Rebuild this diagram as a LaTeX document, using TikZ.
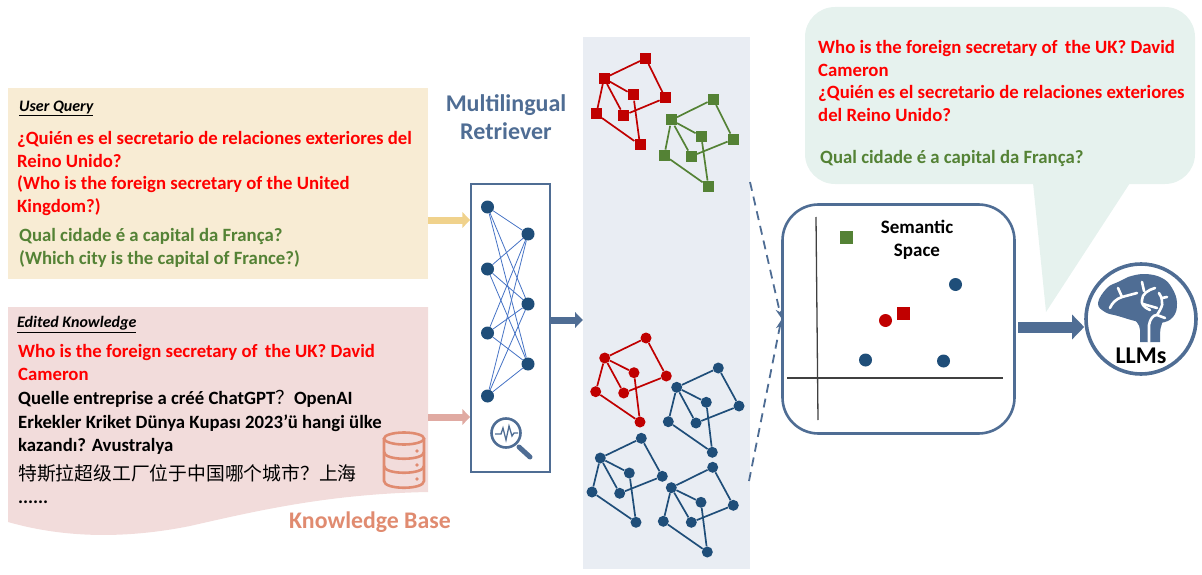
\documentclass[tikz,border=0pt]{standalone}
\usepackage{fontspec}
\setmainfont{Carlito}
\newfontfamily\cjk{Noto Sans CJK SC}
\usetikzlibrary{arrows.meta}
\definecolor{slateblue}{HTML}{4F6D94}
\definecolor{navyblue}{HTML}{1F4E79}
\definecolor{linkblue}{HTML}{4472C4}
\definecolor{darkred}{HTML}{C00000}
\definecolor{leafgreen}{HTML}{548235}
\definecolor{queryfill}{HTML}{F8ECD4}
\definecolor{queryarrow}{HTML}{F0D28C}
\definecolor{editfill}{HTML}{F2DCDB}
\definecolor{editarrow}{HTML}{E0AAA2}
\definecolor{salmon}{HTML}{E08B70}
\definecolor{panelfill}{HTML}{E9EDF3}
\definecolor{bubblefill}{HTML}{E6F2EE}
\tikzset{
  txt/.style={anchor=north west, inner sep=0pt, align=left, font=\fontsize{18.75}{22.7}\selectfont\bfseries},
  head/.style={anchor=west, inner sep=0pt, font=\fontsize{16}{18}\selectfont\bfseries\itshape},
  sq/.style={rectangle, fill=#1, inner sep=0pt, minimum size=11pt},
  dot/.style={circle, fill=#1, inner sep=0pt, minimum size=11pt},
  netnode/.style={circle, fill=navyblue, inner sep=0pt, minimum size=13pt},
  bigarrow/.style={line width=#1, -{Triangle[length=1.1*#1,width=2.2*#1]}},
  dasharrow/.style={draw=slateblue, line width=1.8pt, dash pattern=on 9pt off 6pt, -{Stealth[length=9pt,width=7pt]}},
  branch/.style={white, line width=2.6pt, line cap=round},
}
\newcommand{\kgraph}[9]{
  \node [#2] (#1a) at #3 {};
  \node [#2] (#1b) at #4 {};
  \node [#2] (#1c) at #5 {};
  \node [#2] (#1d) at #6 {};
  \node [#2] (#1e) at #7 {};
  \node [#2] (#1f) at #8 {};
  \node [#2] (#1g) at #9 {};
  \draw [line width=1.7pt, draw=\kcolor] (#1a) -- (#1b) (#1a) -- (#1d) (#1b) -- (#1c) (#1b) -- (#1f)
    (#1b) -- (#1e) (#1d) -- (#1f) (#1e) -- (#1g) (#1c) -- (#1g);
}
\begin{document}
\begin{tikzpicture}[x=1pt, y=-1pt]
  \useasboundingbox (0, 0) rectangle (1202, 575);

  % left side
  \node [fill=queryfill, minimum width=420pt, minimum height=191pt, inner sep=0pt] (query) at (218, 183.5) {};
  \node [head] (queryhead) at (19, 108.5) {\underline{User Query}};
  \node [txt, text=red] (queryred) at (17, 131) {¿Quién es el secretario de relaciones exteriores del\\Reino Unido?\\(Who is the foreign secretary of the United\\Kingdom?)};
  \node [txt, text=leafgreen] (querygreen) at (19, 228) {Qual cidade é a capital da França?\\(Which city is the capital of France?)};

  \fill [editfill] (8, 307) -- (428, 307) -- (428, 492) .. controls (330, 494) and (260, 510) .. (190, 526)
    .. controls (110, 542) and (50, 534) .. (8, 522) -- cycle;
  \coordinate (editout) at (428, 417);
  \node [head] (edithead) at (17, 324.5) {\underline{Edited Knowledge}};
  \node [txt, text=red] (editred) at (18, 344) {Who is the foreign secretary of\, the UK? David\\Cameron};
  \node [txt] (editblack) at (18, 390) {Quelle entreprise a créé ChatGPT{\cjk\mdseries ？}OpenAI\\[1.8pt]Erkekler Kriket Dünya Kupası 2023\symbol{39}ü hangi ülke\\kazandı? Avustralya};
  \node [anchor=west, inner sep=0pt, font=\fontsize{18.8}{22}\selectfont\cjk] (editzh) at (18, 473) {特斯拉超级工厂位于中国哪个城市？上海};
  \node [anchor=base west, inner sep=0pt, font=\fontsize{18.75}{22}\selectfont\bfseries] (editdots) at (18, 503) {......};
  \node [inner sep=0pt, text=salmon, font=\fontsize{23.8}{26}\selectfont\bfseries] (kbase) at (370, 522) {Knowledge Base};

  % database icon
  \begin{scope}[draw=salmon, line width=2.6pt]
    \draw (404, 438.5) ellipse (20 and 6);
    \draw (384, 438.5) -- (384, 481) .. controls (384, 490) and (424, 490) .. (424, 481) -- (424, 438.5);
    \draw (384, 452) .. controls (384, 461) and (424, 461) .. (424, 452);
    \draw (384, 466) .. controls (384, 475) and (424, 475) .. (424, 466);
  \end{scope}
  \fill [salmon] (417, 451) circle (1.8) (417, 465) circle (1.8) (417, 479) circle (1.8);

  % retriever
  \node [inner sep=0pt, align=center, text=slateblue, font=\fontsize{24}{28}\selectfont\bfseries] (rlabel) at (506, 117) {Multilingual\\Retriever};
  \node [draw=slateblue, line width=1.8pt, minimum width=79pt, minimum height=288pt, inner sep=0pt] (retriever) at (510.5, 328) {};
  \foreach \i/\yy in {1/207, 2/269, 3/333, 4/396}
    \node [netnode] (l\i) at (487.5, \yy) {};
  \foreach \j/\yy in {1/234, 2/304, 3/364}
    \node [netnode] (r\j) at (528, \yy) {};
  \foreach \i in {1,...,4}
    \foreach \j in {1,2,3}
      \draw [draw=linkblue, line width=0.8pt] (l\i) -- (r\j);

  % magnifier icon
  \draw [slateblue, line width=2.6pt] (506, 433) circle (14.5);
  \draw [slateblue, line width=5pt, line cap=round] (519, 447) -- (530, 457);
  \draw [slateblue, line width=1.3pt] (495, 434) -- (501, 434) -- (503, 428) -- (506, 440) -- (509, 426) -- (512, 436) -- (514, 433) -- (518, 433);

  \draw [bigarrow=7pt, color=queryarrow] ([yshift=-36.5pt]query.east) -- ([yshift=108pt]retriever.west);
  \draw [bigarrow=7pt, color=editarrow] (editout) -- (retriever.west |- editout);

  % panel of graphs
  \node [fill=panelfill, minimum width=167pt, minimum height=532pt, inner sep=0pt] (panel) at (666.5, 303) {};
  \draw [bigarrow=7pt, color=slateblue] ([yshift=8pt]retriever.east) -- ([yshift=-17pt]panel.west);

  \def\kcolor{darkred}
  \kgraph{qr}{sq=darkred}{(645.7, 58.3)}{(604, 78.3)}{(633.3, 95)}{(665.3, 98)}{(596.3, 114)}{(623.7, 115.3)}{(640, 145)}
  \def\kcolor{leafgreen}
  \kgraph{qg}{sq=leafgreen}{(713.3, 99.3)}{(671.3, 120)}{(701.3, 136.3)}{(733.3, 139.3)}{(664.3, 155.3)}{(691.3, 156.3)}{(708.3, 186.3)}
  \def\kcolor{darkred}
  \kgraph{kr}{dot=darkred}{(646, 338)}{(604.7, 358)}{(634, 372.7)}{(666.3, 376)}{(595.7, 391.7)}{(623.7, 393)}{(640, 422)}
  \def\kcolor{navyblue}
  \kgraph{ka}{dot=navyblue}{(718.3, 368)}{(676.7, 387.3)}{(706.3, 402.3)}{(739, 406)}{(668.3, 421.7)}{(696, 423)}{(712.3, 452.3)}
  \kgraph{kb}{dot=navyblue}{(641.3, 438.3)}{(600.3, 458)}{(629.3, 473)}{(662.3, 476.3)}{(592, 492)}{(619.7, 493.3)}{(636, 522.3)}
  \kgraph{kc}{dot=navyblue}{(712.7, 467.3)}{(671.3, 487.7)}{(701, 502.3)}{(733.3, 505.3)}{(663.3, 521.3)}{(691.3, 522.3)}{(707.3, 552)}

  % semantic space
  \node [draw=slateblue, line width=2.6pt, rounded corners=36pt, minimum width=232pt, minimum height=229pt, inner sep=0pt] (space) at (898.5, 319) {};
  \coordinate (dashtop) at (750, 182);
  \coordinate (dashlow) at (749, 481);
  \draw [dasharrow] (dashtop) -- ([yshift=1pt]space.west);
  \draw [dasharrow] (dashlow) -- ([yshift=-1pt]space.west);

  \coordinate (ytop) at (816, 217);
  \coordinate (ybot) at (818, 420);
  \coordinate (xleft) at (787, 378);
  \coordinate (xright) at (1003, 378);
  \draw [draw=black!75, line width=1.3pt] (ytop) -- (ybot);
  \draw [draw=black!75, line width=1.3pt] (xleft) -- (xright);
  \node [inner sep=0pt, align=center, font=\fontsize{19}{23}\selectfont\bfseries] (slabel) at (917, 239.5) {Semantic\\Space};
  \node [sq=leafgreen, minimum size=13pt] (pg) at (846.5, 237) {};
  \node [dot=navyblue, minimum size=13pt] (pa) at (955.5, 284.5) {};
  \node [dot=darkred, minimum size=13pt] (pr) at (885.5, 320.5) {};
  \node [sq=darkred, minimum size=13pt] (ps) at (903.5, 313.5) {};
  \node [dot=navyblue, minimum size=13pt] (pb) at (865.5, 360) {};
  \node [dot=navyblue, minimum size=13pt] (pc) at (943.5, 361) {};

  % answer bubble
  \fill [bubblefill, rounded corners=30pt] (805, 7) rectangle (1195, 184);
  \fill [bubblefill] (1033, 183) -- (1046, 312) -- (1130, 183) -- cycle;
  \node [txt, text=red] (ansred) at (818, 40) {Who is the foreign secretary of\, the UK? David\\Cameron\\¿Quién es el secretario de relaciones exteriores\\del Reino Unido?};
  \node [txt, text=leafgreen] (ansgreen) at (820, 150) {Qual cidade é a capital da França?};

  % llm
  \node [circle, draw=slateblue, line width=3.6pt, minimum size=110pt, inner sep=0pt] (llm) at (1141, 319) {};
  \coordinate (spaceout) at (1018, 327);
  \draw [bigarrow=11pt, color=slateblue] (spaceout) -- (llm.west |- spaceout);
  \fill [slateblue] plot [smooth cycle, tension=0.7] coordinates {(1098, 303) (1107, 288) (1118, 282) (1128, 277) (1145, 274) (1162, 278)
    (1172, 288) (1177, 303) (1173, 317) (1160, 323) (1140, 322) (1118, 316) (1105, 312)};
  \fill [slateblue] (1140, 342) -- (1140, 330) .. controls (1140, 324) and (1135, 320) .. (1130, 316) -- (1165, 318) .. controls (1160, 325) and (1160, 330) .. (1160, 342) -- cycle;
  \draw [branch] (1149, 342) -- (1149, 325) .. controls (1150, 319) and (1153, 315) .. (1157, 315) -- (1165, 318);
  \draw [branch] (1157, 315) .. controls (1161, 309) and (1163, 304) .. (1162, 303) .. controls (1162, 298) and (1161, 296) .. (1159, 293);
  \draw [branch] (1162, 298) -- (1167, 297);
  \draw [branch] (1150, 310) .. controls (1143, 307) and (1141, 303) .. (1142, 300) .. controls (1142, 294) and (1148, 290) .. (1155, 288);
  \draw [branch] (1142, 282) -- (1144, 291);
  \draw [branch] (1143, 304) -- (1157, 308);
  \draw [branch] (1110, 308) .. controls (1112, 303) and (1116, 299) .. (1122, 297) -- (1137, 293);
  \draw [branch] (1118, 288) -- (1122, 297);
  \node [inner sep=0pt, font=\fontsize{24}{26}\selectfont\bfseries] (llmlabel) at (1141, 356) {LLMs};
\end{tikzpicture}
\end{document}
